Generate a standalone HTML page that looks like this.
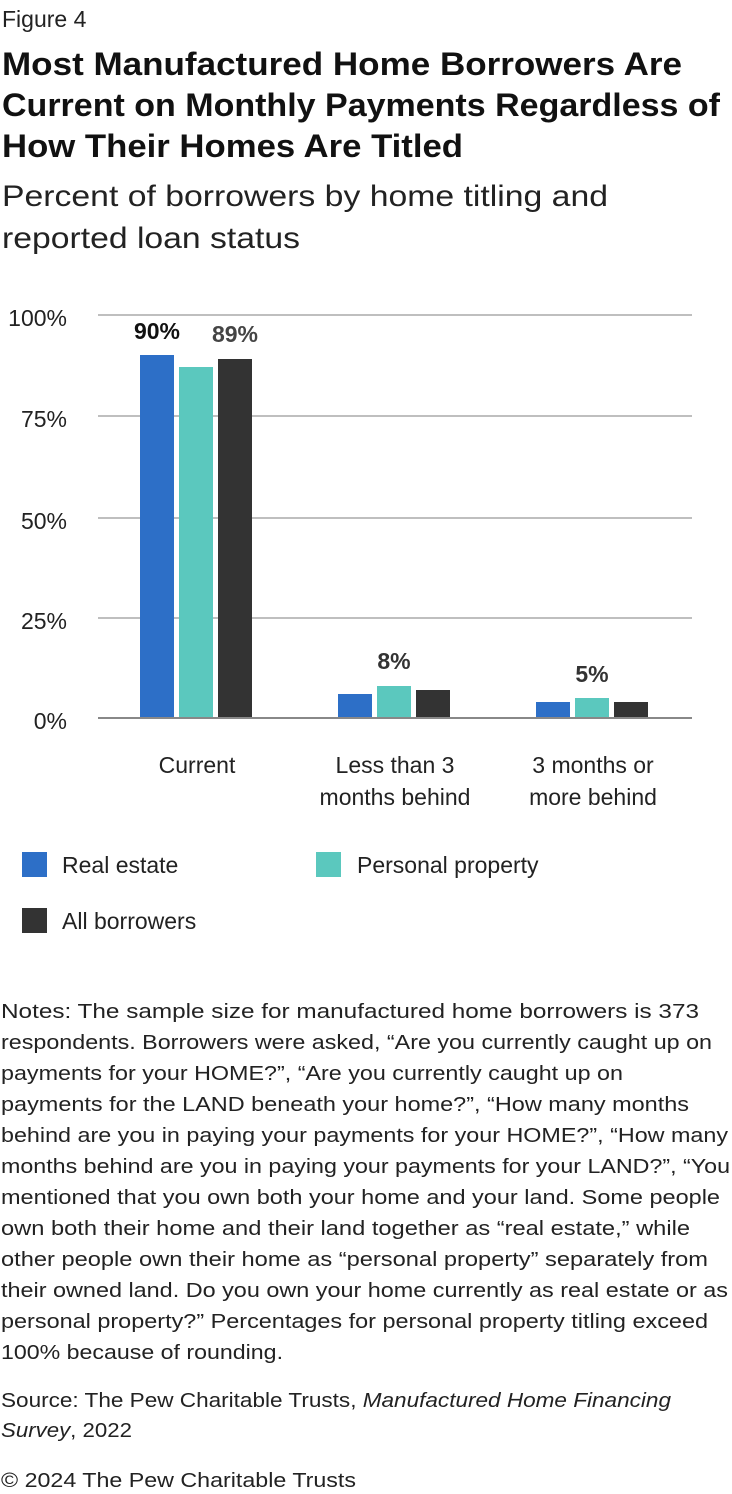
<!DOCTYPE html>
<html><head><meta charset="utf-8"><style>
html,body{margin:0;padding:0;background:#fff;}
svg{display:block;font-family:"Liberation Sans",sans-serif;}
</style></head><body>
<svg width="732" height="1494" viewBox="0 0 732 1494" xmlns="http://www.w3.org/2000/svg">
<text x="2" y="27" font-size="23" fill="#222">Figure 4</text>
<g font-size="32" font-weight="bold" fill="#111">
<text x="2" y="75" textLength="680" lengthAdjust="spacingAndGlyphs">Most Manufactured Home Borrowers Are</text>
<text x="2" y="116" textLength="718" lengthAdjust="spacingAndGlyphs">Current on Monthly Payments Regardless of</text>
<text x="2" y="157" textLength="461" lengthAdjust="spacingAndGlyphs">How Their Homes Are Titled</text>
</g>
<g font-size="30" fill="#222">
<text x="2" y="206" textLength="606" lengthAdjust="spacingAndGlyphs">Percent of borrowers by home titling and</text>
<text x="2" y="248" textLength="298" lengthAdjust="spacingAndGlyphs">reported loan status</text>
</g>
<g stroke="#aaa" stroke-width="1.5">
<line x1="98" y1="315" x2="692" y2="315"/>
<line x1="98" y1="416" x2="692" y2="416"/>
<line x1="98" y1="518" x2="692" y2="518"/>
<line x1="98" y1="618" x2="692" y2="618"/>
</g>
<g font-size="23" fill="#222" text-anchor="end">
<text x="67" y="326">100%</text>
<text x="67" y="427">75%</text>
<text x="67" y="529">50%</text>
<text x="67" y="629">25%</text>
<text x="67" y="729">0%</text>
</g>
<rect x="140" y="355" width="34" height="363" fill="#2d6fc7"/>
<rect x="179" y="367" width="34" height="351" fill="#5bc8be"/>
<rect x="218" y="359" width="34" height="359" fill="#333"/>
<rect x="338" y="694" width="34" height="24" fill="#2d6fc7"/>
<rect x="377" y="686" width="34" height="32" fill="#5bc8be"/>
<rect x="416" y="690" width="34" height="28" fill="#333"/>
<rect x="536" y="702" width="34" height="16" fill="#2d6fc7"/>
<rect x="575" y="698" width="34" height="20" fill="#5bc8be"/>
<rect x="614" y="702" width="34" height="16" fill="#333"/>
<line x1="98" y1="718" x2="692" y2="718" stroke="#888" stroke-width="2"/>
<g font-size="23" font-weight="bold" text-anchor="middle">
<text x="157" y="339" fill="#111">90%</text>
<text x="235" y="342" fill="#444">89%</text>
<text x="394" y="669" fill="#333">8%</text>
<text x="592" y="682" fill="#333">5%</text>
</g>
<g font-size="23" fill="#222" text-anchor="middle">
<text x="197" y="773">Current</text>
<text x="395" y="773">Less than 3</text>
<text x="395" y="805">months behind</text>
<text x="593" y="773">3 months or</text>
<text x="593" y="805">more behind</text>
</g>
<rect x="22" y="852" width="25" height="25" fill="#2d6fc7"/>
<text x="62" y="873" font-size="23" fill="#222">Real estate</text>
<rect x="316" y="852" width="25" height="25" fill="#5bc8be"/>
<text x="357" y="873" font-size="23" fill="#222">Personal property</text>
<rect x="22" y="908" width="25" height="25" fill="#333"/>
<text x="62" y="929" font-size="23" fill="#222">All borrowers</text>
<g font-size="20" fill="#222">
<text x="1" y="1018" textLength="698" lengthAdjust="spacingAndGlyphs">Notes: The sample size for manufactured home borrowers is 373</text>
<text x="1" y="1049" textLength="711" lengthAdjust="spacingAndGlyphs">respondents. Borrowers were asked, “Are you currently caught up on</text>
<text x="1" y="1080" textLength="622" lengthAdjust="spacingAndGlyphs">payments for your HOME?”, “Are you currently caught up on</text>
<text x="1" y="1111" textLength="688" lengthAdjust="spacingAndGlyphs">payments for the LAND beneath your home?”, “How many months</text>
<text x="1" y="1142" textLength="727" lengthAdjust="spacingAndGlyphs">behind are you in paying your payments for your HOME?”, “How many</text>
<text x="1" y="1173" textLength="729" lengthAdjust="spacingAndGlyphs">months behind are you in paying your payments for your LAND?”, “You</text>
<text x="1" y="1204" textLength="719" lengthAdjust="spacingAndGlyphs">mentioned that you own both your home and your land. Some people</text>
<text x="1" y="1235" textLength="689" lengthAdjust="spacingAndGlyphs">own both their home and their land together as “real estate,” while</text>
<text x="1" y="1266" textLength="707" lengthAdjust="spacingAndGlyphs">other people own their home as “personal property” separately from</text>
<text x="1" y="1297" textLength="727" lengthAdjust="spacingAndGlyphs">their owned land. Do you own your home currently as real estate or as</text>
<text x="1" y="1328" textLength="707" lengthAdjust="spacingAndGlyphs">personal property?” Percentages for personal property titling exceed</text>
<text x="1" y="1359" textLength="282" lengthAdjust="spacingAndGlyphs">100% because of rounding.</text>
<text x="1" y="1407" textLength="670" lengthAdjust="spacingAndGlyphs">Source: The Pew Charitable Trusts, <tspan font-style="italic">Manufactured Home Financing</tspan></text>
<text x="1" y="1437" textLength="131" lengthAdjust="spacingAndGlyphs"><tspan font-style="italic">Survey</tspan>, 2022</text>
<text x="1" y="1487" textLength="355" lengthAdjust="spacingAndGlyphs">© 2024 The Pew Charitable Trusts</text>
</g>
</svg>
</body></html>
